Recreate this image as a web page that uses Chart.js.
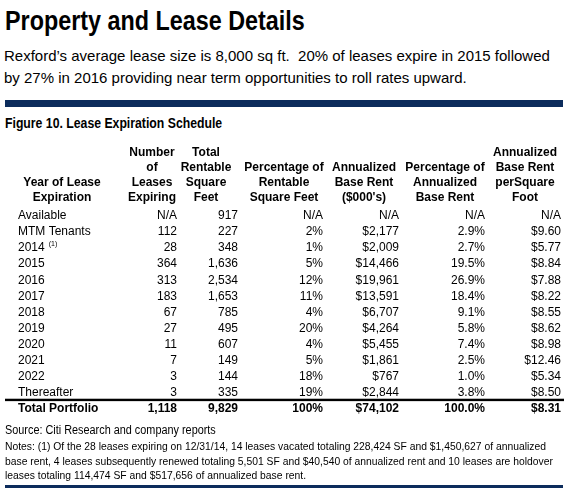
<!DOCTYPE html>
<html>
<head>
<meta charset="utf-8">
<script src="https://cdn.jsdelivr.net/npm/chart.js@4.4.1/dist/chart.umd.min.js"></script>
<style>
  body { margin: 0; background: #fff; }
  #page { position: relative; width: 577px; height: 490px; overflow: hidden; font-family: "Liberation Sans", Arial, sans-serif; color: #000; }
  .t { position: absolute; white-space: nowrap; }
  .narrow { transform-origin: 0 0; }
  .bar { position: absolute; left: 5px; width: 558px; background: #0c2c5c; }
  #tbl { position: absolute; left: 0; top: 0; }
</style>
</head>
<body>
<div id="page">
  <div class="t narrow" data-w="300" style="left:5px;top:8px;font-size:27px;line-height:27px;font-weight:bold;">Property and Lease Details</div>
  <div class="t" style="left:4px;top:45px;font-size:15px;line-height:22px;">Rexford’s average lease size is 8,000 sq ft.&nbsp; 20% of leases expire in 2015 followed<br>by 27% in 2016 providing near term opportunities to roll rates upward.</div>
  <div class="bar" style="top:100px;height:7px;"></div>
  <div class="t narrow" data-w="217" style="left:5px;top:116px;font-size:14px;line-height:14px;font-weight:bold;">Figure 10. Lease Expiration Schedule</div>
  <canvas id="tbl" width="577" height="490"></canvas>
  <div class="t narrow" data-w="211" style="left:5px;top:424px;font-size:12px;line-height:12px;">Source: Citi Research and company reports</div>
  <div class="t narrow" id="notes" style="left:5px;top:439px;font-size:11.5px;line-height:14.5px;"><span id="n1">Notes: (1) Of the 28 leases expiring on 12/31/14, 14 leases vacated totaling 228,424 SF and $1,450,627 of annualized</span><br>base rent, 4 leases subsequently renewed totaling 5,501 SF and $40,540 of annualized rent and 10 leases are holdover<br>leases totaling 114,474 SF and $517,656 of annualized base rent.</div>
  <div class="bar" style="top:485px;height:3px;"></div>
</div>
<script>
// condensed text: squeeze to the width it takes in the reference
document.querySelectorAll('.narrow[data-w]').forEach(el => {
  el.style.transform = 'scaleX(' + (el.dataset.w / el.scrollWidth) + ')';
});
const n1 = document.getElementById('n1');
document.getElementById('notes').style.transform = 'scaleX(' + (541 / n1.getBoundingClientRect().width) + ')';

// rows of the schedule
const years = ['Available', 'MTM Tenants', '2014', '2015', '2016', '2017', '2018', '2019', '2020', '2021', '2022', 'Thereafter'];
const leases = [null, 112, 28, 364, 313, 183, 67, 27, 11, 7, 3, 3];
const sqft = [917, 227, 348, 1636, 2534, 1653, 785, 495, 607, 149, 144, 335];
const pctSqft = [null, 2, 1, 5, 12, 11, 4, 20, 4, 5, 18, 19];
const rent = [null, 2177, 2009, 14466, 19961, 13591, 6707, 4264, 5455, 1861, 767, 2844];
const pctRent = [null, 2.9, 2.7, 19.5, 26.9, 18.4, 9.1, 5.8, 7.4, 2.5, 1.0, 3.8];
const rentPsf = [null, 9.60, 5.77, 8.84, 7.88, 8.22, 8.55, 8.62, 8.98, 12.46, 5.34, 8.50];

const totalLabel = 'Total Portfolio';
const totals = [1118, 9829, 100, 74102, 100.0, 8.31];

const headers = [
  ['Year of Lease', 'Expiration'],
  ['Number', 'of', 'Leases', 'Expiring'],
  ['Total', 'Rentable', 'Square', 'Feet'],
  ['Percentage of', 'Rentable', 'Square Feet'],
  ['Annualized', 'Base Rent', "($000's)"],
  ['Percentage of', 'Annualized', 'Base Rent'],
  ['Annualized', 'Base Rent', 'perSquare', 'Foot']
];

const footnoteRow = '2014';

// formatting per column
const fmtInt = v => v.toLocaleString('en-US');
const formats = [
  fmtInt,
  fmtInt,
  v => v + '%',
  v => '$' + v.toLocaleString('en-US'),
  v => v.toFixed(1) + '%',
  v => '$' + v.toFixed(2)
];
const columns = [leases, sqft, pctSqft, rent, pctRent, rentPsf];

// layout: right edge of each value column, header centres
const colRight = [177, 238, 323, 399, 485, 561];
const colCenter = [62, 152, 206, 284, 364, 445, 525];
const firstColLeft = 18;

const tablePlugin = {
  id: 'table',
  afterDraw(chart) {
    const ctx = chart.ctx;
    const xs = chart.scales.x, ys = chart.scales.y;
    const fs = 12;
    const base = i => ys.getPixelForValue(i) + 4.2;
    const rows = ys.getLabels();
    ctx.save();
    ctx.fillStyle = '#000';

    // header, lines aligned to the bottom
    ctx.font = 'bold ' + fs + 'px "Liberation Sans", Arial';
    ctx.textAlign = 'center';
    const top0 = ys.getPixelForValue(0);
    headers.forEach((lines, c) => {
      lines.forEach((txt, k) => {
        const y = top0 - 18 - 15 * (lines.length - 1 - k) + 4.2;
        ctx.fillText(txt, xs.getPixelForValue(colCenter[c]), y);
      });
    });

    // body
    rows.forEach((label, i) => {
      const isTotal = i === rows.length - 1;
      ctx.font = (isTotal ? 'bold ' : '') + fs + 'px "Liberation Sans", Arial';
      ctx.textAlign = 'left';
      const x0 = xs.getPixelForValue(firstColLeft);
      ctx.fillText(label, x0, base(i));
      if (label === footnoteRow) {
        const w = ctx.measureText(label).width;
        ctx.font = '7px "Liberation Sans", Arial';
        ctx.fillText('(1)', x0 + w + 4, base(i) - 5);
        ctx.font = fs + 'px "Liberation Sans", Arial';
      }
      ctx.textAlign = 'right';
      columns.forEach((col, c) => {
        const v = isTotal ? totals[c] : col[i];
        const txt = v === null ? 'N/A' : formats[c](v);
        ctx.fillText(txt, xs.getPixelForValue(colRight[c]), base(i));
      });
    });

    // rule above the total row
    const yLine = (ys.getPixelForValue(rows.length - 2) + ys.getPixelForValue(rows.length - 1)) / 2;
    ctx.fillRect(xs.getPixelForValue(5), yLine - 1.2, xs.getPixelForValue(564) - xs.getPixelForValue(5), 2.4);
    ctx.restore();
  }
};

new Chart(document.getElementById('tbl'), {
  type: 'scatter',
  data: { datasets: [] },
  options: {
    responsive: false,
    animation: false,
    devicePixelRatio: 1,
    layout: { padding: { top: 207, bottom: 74, left: 0, right: 0 } },
    plugins: { legend: { display: false }, tooltip: { enabled: false } },
    scales: {
      x: { type: 'linear', min: 0, max: 577, display: false },
      y: { type: 'category', labels: years.concat([totalLabel]), offset: true, display: false }
    }
  },
  plugins: [tablePlugin]
});
</script>
</body>
</html>
